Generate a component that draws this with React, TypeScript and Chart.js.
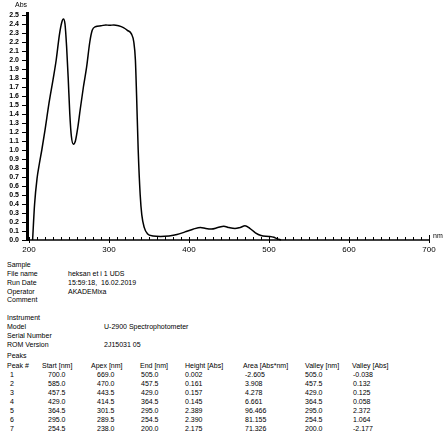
import React, { useEffect, useRef } from 'react';
import { Chart, registerables } from 'chart.js';
Chart.register(...registerables);

// ---- spectrum data (nm, Abs) ----
const wavelengths = [204.5, 207, 210, 213, 216, 220, 225, 230, 234, 238, 241, 243, 245, 247, 249, 251, 253, 255.5, 258, 261, 264, 268, 272, 276, 279, 283, 290, 296, 301, 306, 312, 318, 323, 328, 331, 333, 334.5, 336.5, 339, 341, 344, 348, 355, 364.5, 375, 385, 395, 405, 414.5, 421, 428, 436, 443.5, 450, 457.5, 464, 470, 476, 483, 490, 500, 506, 510, 515];
const absorbance = [0.0, 0.4, 0.68, 0.85, 1.0, 1.22, 1.52, 1.78, 2.0, 2.28, 2.42, 2.455, 2.4, 2.15, 1.8, 1.4, 1.15, 1.065, 1.1, 1.25, 1.45, 1.7, 1.92, 2.2, 2.33, 2.37, 2.38, 2.39, 2.385, 2.39, 2.38, 2.36, 2.33, 2.29, 2.2, 2.0, 1.6, 1.0, 0.5, 0.28, 0.14, 0.07, 0.045, 0.04, 0.045, 0.06, 0.09, 0.12, 0.14, 0.128, 0.122, 0.138, 0.153, 0.138, 0.128, 0.14, 0.157, 0.13, 0.08, 0.05, 0.04, 0.03, 0.015, 0.0];

const xMin = 200;
const xMax = 700;
const xStep = 100;
const yMin = 0;
const yMax = 2.5;
const yStep = 0.1;
const yTitle = 'Abs';
const xTitle = 'nm';

// ---- report text ----
const infoLabels = ['Sample', 'File name', 'Run Date', 'Operator', 'Comment'];
const infoValues = ['', 'heksan et i 1 UDS', '15:59:18,  16.02.2019', 'AKADEMixa', ''];
const instrumentLabels = ['Instrument', 'Model', 'Serial Number', 'ROM Version', 'Peaks'];
const instrumentValues = ['', 'U-2900 Spectrophotometer', '', '2J15031 05', ''];
const peakHeaders = ['Peak #', 'Start [nm]', 'Apex [nm]', 'End [nm]', 'Height [Abs]', 'Area [Abs*nm]', 'Valley [nm]', 'Valley [Abs]'];
const peakNumbers = ['1', '2', '3', '4', '5', '6', '7'];
const startNm = ['700.0', '585.0', '457.5', '429.0', '364.5', '295.0', '254.5'];
const apexNm = ['669.0', '470.0', '443.5', '414.5', '301.5', '289.5', '238.0'];
const endNm = ['505.0', '457.5', '429.0', '364.5', '295.0', '254.5', '200.0'];
const heightAbs = ['0.002', '0.161', '0.157', '0.145', '2.389', '2.390', '2.175'];
const areaAbsNm = ['-2.605', '3.908', '4.278', '6.661', '96.466', '81.155', '71.326'];
const valleyNm = ['505.0', '457.5', '429.0', '364.5', '295.0', '254.5', '200.0'];
const valleyAbs = ['-0.038', '0.132', '0.125', '0.058', '2.372', '1.064', '-2.177'];

const FONT = '"Liberation Sans", Arial, sans-serif';
const headerX = [7, 42, 91, 140, 185, 243, 305, 352];
const valueX = [10, 48, 97, 141, 185, 245, 305, 353];

const axesPlugin = {
  id: 'axesPlugin',
  afterDraw(chart: any) {
    const ctx = chart.ctx;
    const xs = chart.scales.x;
    const ys = chart.scales.y;
    const left = chart.chartArea.left;
    const bottom = ys.getPixelForValue(yMin);
    const top = ys.getPixelForValue(yMax);
    ctx.save();
    ctx.fillStyle = '#000';
    ctx.strokeStyle = '#000';
    ctx.fillRect(left - 3, top - 3, 3, bottom - top + 4);
    ctx.lineWidth = 1;
    const n = Math.round((yMax - yMin) / yStep);
    for (let i = 0; i <= n; i++) {
      const py = Math.round(ys.getPixelForValue(yMin + i * yStep)) + 0.5;
      ctx.beginPath();
      ctx.moveTo(left - 7, py);
      ctx.lineTo(left - 3, py);
      ctx.stroke();
    }
    ctx.lineWidth = 1.5;
    ctx.beginPath();
    ctx.moveTo(left - 3, bottom);
    ctx.lineTo(xs.getPixelForValue(xMax) + 1, bottom);
    ctx.stroke();
    ctx.lineWidth = 1;
    for (let v = xMin; v <= xMax; v += 10) {
      const px = Math.round(xs.getPixelForValue(v)) + 0.5;
      const major = (v - xMin) % xStep === 0;
      ctx.beginPath();
      ctx.moveTo(px, bottom - (v === xMax ? 5 : 3));
      ctx.lineTo(px, bottom + (major ? 3 : 0));
      ctx.stroke();
    }
    ctx.font = '7px ' + FONT;
    ctx.textBaseline = 'middle';
    ctx.textAlign = 'left';
    ctx.fillText(yTitle, left - 14, top - 10);
    ctx.fillText(xTitle, xs.getPixelForValue(xMax) + 4, bottom - 4);
    ctx.restore();
  },
};

function ChartBox() {
  const ref = useRef<HTMLCanvasElement | null>(null);
  useEffect(() => {
    if (!ref.current) return;
    const points = wavelengths.map((w, i) => ({ x: w, y: absorbance[i] }));
    const chart = new Chart(ref.current, {
      type: 'line',
      data: {
        datasets: [
          {
            data: points,
            borderColor: '#000',
            borderWidth: 1.5,
            pointRadius: 0,
            fill: false,
            cubicInterpolationMode: 'monotone',
            clip: false as any,
          },
        ],
      },
      options: {
        animation: false,
        responsive: false,
        maintainAspectRatio: false,
        devicePixelRatio: 1,
        layout: { padding: { top: 15, right: 15, left: 0, bottom: 0 } },
        plugins: { legend: { display: false }, tooltip: { enabled: false } },
        scales: {
          x: {
            type: 'linear',
            min: xMin,
            max: xMax,
            afterFit: (s: any) => { s.height = 16; },
            border: { display: false },
            grid: { display: true, drawOnChartArea: false, drawTicks: true, tickLength: 3, color: 'rgba(0,0,0,0)' },
            ticks: { stepSize: xStep, autoSkip: false, maxRotation: 0, padding: 2, color: '#000', font: { size: 8, family: FONT }, callback: (v: any) => String(v) },
          },
          y: {
            type: 'linear',
            min: yMin,
            max: yMax,
            afterFit: (s: any) => { s.width = 29; },
            border: { display: false },
            grid: { display: true, drawOnChartArea: false, drawTicks: true, tickLength: 8, color: 'rgba(0,0,0,0)' },
            ticks: { stepSize: yStep, autoSkip: false, padding: 2, color: '#000', font: { size: 7, family: FONT, weight: 'bold' }, callback: (v: any) => Number(v).toFixed(1) },
          },
        },
      },
      plugins: [axesPlugin],
    } as any);
    return () => chart.destroy();
  }, []);
  return <canvas ref={ref} width={444} height={256} style={{ position: 'absolute', left: 0, top: 0, width: 444, height: 256 }} />;
}

const txt = (s: string, x: number, y: number, key: string) => (
  <div key={key} style={{ position: 'absolute', left: x, top: y - 4, fontSize: 7, lineHeight: '8px', fontFamily: FONT, color: '#000', whiteSpace: 'pre' }}>{s}</div>
);

export default function App() {
  const infoY = [265, 274, 283, 292, 300];
  const instY = [318, 327, 336, 345, 356];
  const headerY = 366;
  const rowY0 = 375;
  const rowDY = 9;
  const cols = [peakNumbers, startNm, apexNm, endNm, heightAbs, areaAbsNm, valleyNm, valleyAbs];
  return (
    <div style={{ position: 'fixed', left: 0, top: 0, width: 444, height: 437, background: '#fff', overflow: 'hidden' }}>
      <ChartBox />
      {infoLabels.map((l, i) => txt(l, 7, infoY[i], 'il' + i))}
      {infoValues.map((v, i) => txt(v, 68, infoY[i], 'iv' + i))}
      {instrumentLabels.map((l, i) => txt(l, 7, instY[i], 'nl' + i))}
      {instrumentValues.map((v, i) => txt(v, 104, instY[i], 'nv' + i))}
      {peakHeaders.map((h, i) => txt(h, headerX[i], headerY, 'h' + i))}
      {cols.map((col, c) => col.map((v, r) => txt(v, valueX[c], rowY0 + r * rowDY, 'c' + c + 'r' + r)))}
    </div>
  );
}
